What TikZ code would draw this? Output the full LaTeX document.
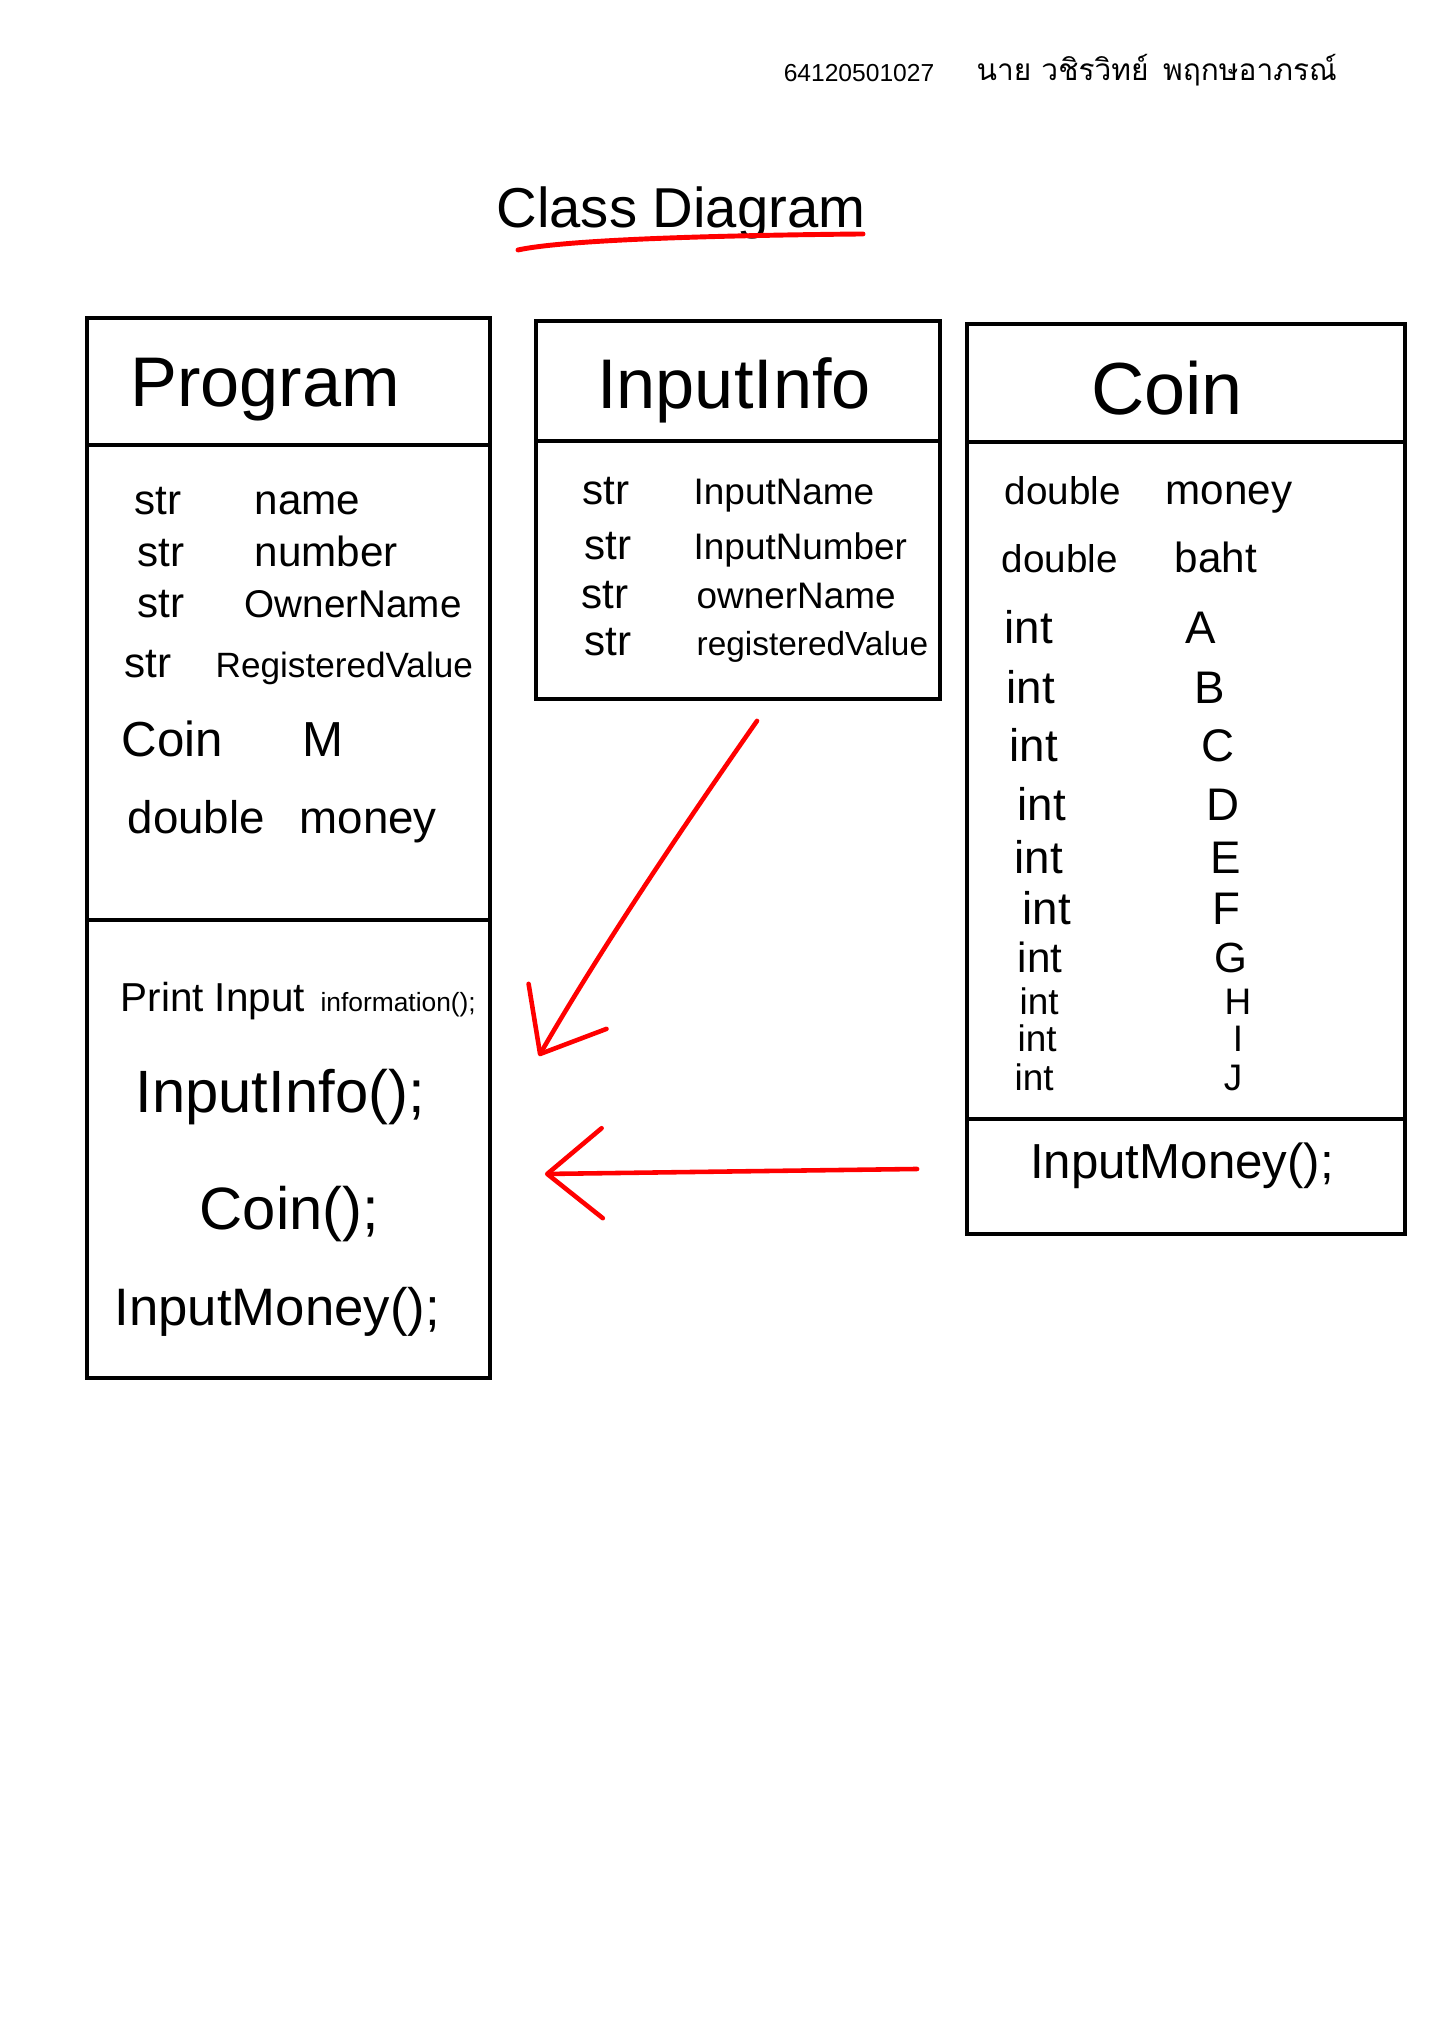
\documentclass[tikz,border=0pt]{standalone}
\usepackage{fontspec}
\setmainfont{Liberation Sans}
\newfontfamily\thaifont[Script=Thai]{Loma}
\usetikzlibrary{arrows.meta}

\tikzset{
  classbox/.style={draw, line width=1.1pt, inner sep=0pt},
  classname/.style={anchor=base, inner sep=0pt, font=\fontsize{20}{24}\selectfont},
  attr/.style={anchor=base west, inner sep=0pt, font=\fontsize{12}{14}\selectfont},
  letter/.style={anchor=base, inner sep=0pt, font=\fontsize{13}{15}\selectfont},
  method/.style={anchor=base west, inner sep=0pt, font=\fontsize{16}{19}\selectfont},
  thaitext/.style={anchor=base, inner sep=0pt, font=\thaifont\fontsize{8.5}{10}\selectfont},
  linkarrow/.style={draw=red, line width=1.3pt, line cap=round, line join=round, -{Straight Barb[length=5.5mm,width=9mm,round]}}
}

\begin{document}
\begin{tikzpicture}

\useasboundingbox (0,0) rectangle (14.47,20.39);

\node[anchor=base, inner sep=0pt, font=\fontsize{7}{8}\selectfont] (stid) at (8.59,19.57) {64120501027};
\node[thaitext] (prefix) at (10.04,19.58) {นาย};
\node[thaitext] (fname) at (10.95,19.58) {วชิรวิทย์};
\node[thaitext] (lname) at (12.50,19.58) {พฤกษอาภรณ์};

\node[anchor=base, inner sep=0pt, font=\fontsize{16}{19}\selectfont] (title) at (6.81,18.11) {Class Diagram};
\draw[red, line width=1.4pt, line cap=round] (5.18,17.89) .. controls (5.55,17.97) and (6.6,18.03) .. (8.63,18.05);

\node[classbox, minimum width=4.03cm, minimum height=10.60cm] (prog) at (2.885,11.91) {};
\node[classbox, minimum width=4.04cm, minimum height=3.78cm] (info) at (7.38,15.29) {};
\node[classbox, minimum width=4.38cm, minimum height=9.10cm] (coin) at (11.86,12.60) {};

\draw[line width=1.1pt] (prog.west |- 0,15.94) -- (prog.east |- 0,15.94);
\draw[line width=1.1pt] (prog.west |- 0,11.19) -- (prog.east |- 0,11.19);
\draw[line width=1.1pt] (info.west |- 0,15.98) -- (info.east |- 0,15.98);
\draw[line width=1.1pt] (coin.west |- 0,15.97) -- (coin.east |- 0,15.97);
\draw[line width=1.1pt] (coin.west |- 0,9.20) -- (coin.east |- 0,9.20);

\node[classname] (progname) at (2.65,16.32) {Program};
\node[attr] (pt1) at (1.34,15.24) {str};
\node[attr] (pn1) at (2.54,15.24) {name};
\node[attr] (pt2) at (1.37,14.72) {str};
\node[attr] (pn2) at (2.54,14.72) {number};
\node[attr] (pt3) at (1.37,14.21) {str};
\node[attr, font=\fontsize{11}{13}\selectfont] (pn3) at (2.44,14.21) {OwnerName};
\node[attr] (pt4) at (1.24,13.61) {str};
\node[attr, font=\fontsize{10}{12}\selectfont] (pn4) at (2.15,13.61) {RegisteredValue};
\node[attr, font=\fontsize{14}{16}\selectfont] (pt5) at (1.21,12.82) {Coin};
\node[attr, font=\fontsize{14}{16}\selectfont] (pn5) at (3.02,12.82) {M};
\node[attr, font=\fontsize{13}{15}\selectfont] (pt6) at (1.27,12.05) {double};
\node[attr, font=\fontsize{13}{15}\selectfont] (pn6) at (2.99,12.05) {money};

\node[method] (pm1) at (1.20,10.27) {{\fontsize{11.5}{14}\selectfont Print Input} {\fontsize{7.5}{9}\selectfont information();}};
\node[method, font=\fontsize{17}{20}\selectfont] (pm2) at (1.35,9.26) {InputInfo();};
\node[method, font=\fontsize{17}{20}\selectfont] (pm3) at (1.99,8.09) {Coin();};
\node[method, font=\fontsize{15}{18}\selectfont] (pm4) at (1.14,7.13) {InputMoney();};

\node[classname] (infoname) at (7.34,16.30) {InputInfo};
\node[attr] (it1) at (5.82,15.34) {str};
\node[attr, font=\fontsize{10.5}{12}\selectfont] (in1) at (6.93,15.34) {InputName};
\node[attr] (it2) at (5.84,14.79) {str};
\node[attr, font=\fontsize{10.5}{12}\selectfont] (in2) at (6.93,14.79) {InputNumber};
\node[attr] (it3) at (5.81,14.30) {str};
\node[attr, font=\fontsize{10.5}{12}\selectfont] (in3) at (6.96,14.30) {ownerName};
\node[attr] (it4) at (5.84,13.83) {str};
\node[attr, font=\fontsize{9.5}{11}\selectfont] (in4) at (6.96,13.83) {registeredValue};

\node[classname, font=\fontsize{21}{25}\selectfont] (coinname) at (11.67,16.24) {Coin};
\node[attr, font=\fontsize{11}{13}\selectfont] (ct1) at (10.04,15.34) {double};
\node[attr] (cn1) at (11.65,15.34) {money};
\node[attr, font=\fontsize{11}{13}\selectfont] (ct2) at (10.01,14.66) {double};
\node[attr] (cn2) at (11.74,14.66) {baht};
\node[attr, font=\fontsize{13}{15}\selectfont] (ctA) at (10.04,13.95) {int};
\node[letter] (cA) at (12.01,13.95) {A};
\node[attr, font=\fontsize{13}{15}\selectfont] (ctB) at (10.06,13.35) {int};
\node[letter] (cB) at (12.10,13.35) {B};
\node[attr, font=\fontsize{13}{15}\selectfont] (ctC) at (10.09,12.77) {int};
\node[letter] (cC) at (12.18,12.77) {C};
\node[attr, font=\fontsize{13}{15}\selectfont] (ctD) at (10.17,12.18) {int};
\node[letter] (cD) at (12.23,12.18) {D};
\node[attr, font=\fontsize{13}{15}\selectfont] (ctE) at (10.14,11.65) {int};
\node[letter] (cE) at (12.26,11.65) {E};
\node[attr, font=\fontsize{13}{15}\selectfont] (ctF) at (10.22,11.14) {int};
\node[letter] (cF) at (12.26,11.14) {F};
\node[attr, font=\fontsize{12}{14}\selectfont] (ctG) at (10.17,10.66) {int};
\node[letter, font=\fontsize{12}{14}\selectfont] (cG) at (12.31,10.66) {G};
\node[attr, font=\fontsize{10.5}{12}\selectfont] (ctH) at (10.19,10.24) {int};
\node[letter, font=\fontsize{10.5}{12}\selectfont] (cH) at (12.38,10.24) {H};
\node[attr, font=\fontsize{10.5}{12}\selectfont] (ctI) at (10.17,9.87) {int};
\node[letter, font=\fontsize{10.5}{12}\selectfont] (cI) at (12.38,9.87) {I};
\node[attr, font=\fontsize{10.5}{12}\selectfont] (ctJ) at (10.14,9.48) {int};
\node[letter, font=\fontsize{10.5}{12}\selectfont] (cJ) at (12.33,9.48) {J};
\node[anchor=base, inner sep=0pt, font=\fontsize{14}{17}\selectfont] (cm1) at (11.82,8.60) {InputMoney();};

\coordinate (infoout) at ([shift={(0.19,-0.20)}]info.south);
\coordinate (progin) at ([shift={(0.47,-2.08)}]prog.east);
\coordinate (coinout) at ([shift={(-0.48,-3.90)}]coin.west);
\coordinate (progin2) at ([shift={(0.53,-3.26)}]prog.east);

\draw[linkarrow] (infoout) to[out=235,in=60,looseness=0.8] (progin);
\draw[linkarrow] (coinout) -- (progin2);

\end{tikzpicture}
\end{document}
